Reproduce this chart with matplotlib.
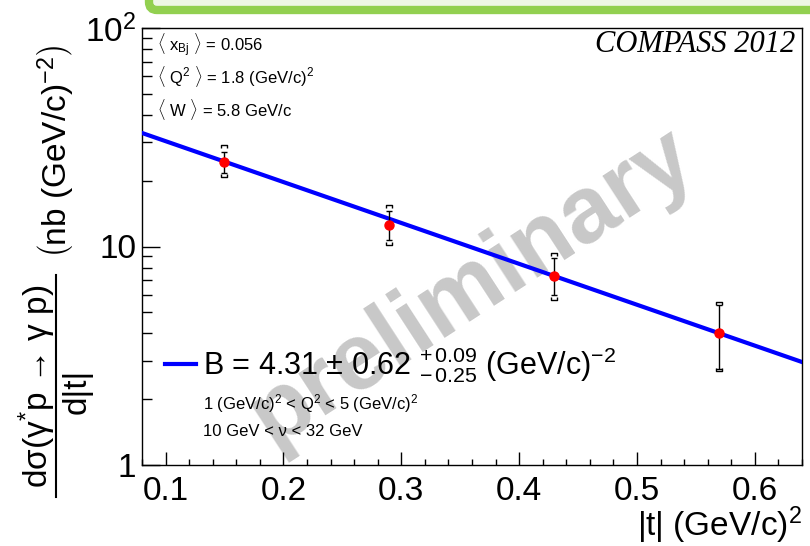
import numpy as np
import matplotlib
matplotlib.use('Agg')
from matplotlib import pyplot as plt
from matplotlib.path import Path
from matplotlib.lines import Line2D
from matplotlib.patches import FancyBboxPatch
from matplotlib.ticker import MultipleLocator, LogLocator, FixedLocator, FixedFormatter, NullFormatter
from matplotlib.transforms import IdentityTransform

plt.rcParams['font.family'] = ['Liberation Sans', 'DejaVu Sans']
plt.rcParams['mathtext.fontset'] = 'custom'
plt.rcParams['mathtext.rm'] = 'Liberation Sans'
plt.rcParams['mathtext.it'] = 'Liberation Sans'
plt.rcParams['mathtext.bf'] = 'Liberation Sans:bold'

# measured points
t_vals = [0.15, 0.29, 0.43, 0.57]
xsec = [24.4, 12.5, 7.3, 4.0]
stat_lo = [21.7, 10.7, 6.0, 2.75]
stat_hi = [27.1, 14.5, 8.9, 5.4]
sys_lo = [20.8, 10.2, 5.7, 2.7]
sys_hi = [29.1, 15.5, 9.3, 5.6]

# exponential fit  A * exp(-B |t|)
fit_A = 46.7
fit_B = 4.31

x_ticks = [0.1, 0.2, 0.3, 0.4, 0.5, 0.6]
y_ticks = [1, 10, 100]
y_ticklabels = ['1', '10', r'$10^{2}$']

W, H = 810, 546

def fx(px):
    return px / W

def fy(py):
    return 1 - py / H

fig = plt.figure(figsize=(8.1, 5.46), dpi=100)
ax = fig.add_axes([fx(142), 81 / H, 660 / W, 437 / H])

# green box peeking in at the top
box = FancyBboxPatch((149, 536), 700, 120, boxstyle='round,pad=0,rounding_size=8',
                     transform=IdentityTransform(), facecolor='#eef7e6',
                     edgecolor='#92d050', linewidth=6, clip_on=False)
fig.add_artist(box)

# watermark, behind the axes content
fig.text(fx(472), fy(287), 'preliminary', fontsize=68, fontweight='bold',
         color='#c8c8c8', rotation=33, ha='center', va='center',
         rotation_mode='anchor', zorder=-1)

tt = np.linspace(0.08, 0.64, 200)
fit_line, = ax.plot(tt, fit_A * np.exp(-fit_B * tt), color='#0000ff', lw=3, zorder=3)

t = np.array(t_vals)
y = np.array(xsec)
ax.errorbar(t, y, yerr=[y - np.array(stat_lo), np.array(stat_hi) - y], fmt='none',
            ecolor='black', elinewidth=1, capsize=2, capthick=1, zorder=4)

top_cap = Path([(-1, -1), (-1, 0), (1, 0), (1, -1)], [1, 2, 2, 2])
bot_cap = Path([(-1, 1), (-1, 0), (1, 0), (1, 1)], [1, 2, 2, 2])
ax.plot(t, sys_hi, ls='none', marker=top_cap, ms=4, mec='black', mfc='none', mew=1, zorder=4)
ax.plot(t, sys_lo, ls='none', marker=bot_cap, ms=4, mec='black', mfc='none', mew=1, zorder=4)
ax.plot(t, y, ls='none', marker='o', ms=6.5, color='#ff0000', zorder=5)

ax.set_xlim(0.08, 0.64)
ax.set_yscale('log')
ax.set_ylim(1, 100)
ax.patch.set_alpha(0)

ax.xaxis.set_major_locator(FixedLocator(x_ticks))
ax.xaxis.set_minor_locator(MultipleLocator(0.02))
ax.set_xticklabels([str(v) for v in x_ticks])
ax.yaxis.set_major_locator(FixedLocator(y_ticks))
ax.yaxis.set_major_formatter(FixedFormatter(y_ticklabels))
ax.yaxis.set_minor_locator(LogLocator(base=10, subs=np.arange(2, 10)))
ax.yaxis.set_minor_formatter(NullFormatter())

ax.tick_params(axis='both', which='both', direction='in', top=False, right=False, width=1)
ax.tick_params(axis='x', which='major', length=9.5, labelsize=24, pad=8)
ax.tick_params(axis='x', which='minor', length=4.5)
ax.tick_params(axis='y', which='major', length=13, labelsize=24, pad=4)
ax.tick_params(axis='y', which='minor', length=7)
for s in ax.spines.values():
    s.set_linewidth(1)

# y title built as a fraction: numerator, bar, denominator, units
fig.text(fx(37), fy(386), 'dσ(γ$^{*}$p → γ p)',
         fontsize=24, rotation=90, ha='center', va='center')
fig.add_artist(Line2D([fx(56), fx(56)], [fy(497), fy(275)], color='black', lw=1.5,
                      transform=fig.transFigure))
fig.text(fx(77), fy(391), 'd|t|', fontsize=24, rotation=90, ha='center', va='center')
fig.text(fx(56), fy(152), r'$\left(\mathrm{nb\ (GeV/c)^{-2}}\right)$',
         fontsize=24, rotation=90, ha='center', va='center')

fig.text(fx(802), fy(525), r'|t| (GeV/c)$^{2}$', fontsize=24, ha='right', va='center')

# kinematics
fig.text(fx(157), fy(45), r'$\langle\ \mathrm{x_{Bj}}\ \rangle$ = 0.056', fontsize=12, va='center')
fig.text(fx(157), fy(77), r'$\langle\ \mathrm{Q^{2}}\ \rangle$ = 1.8 (GeV/c)$^{2}$', fontsize=12, va='center')
fig.text(fx(157), fy(110), r'$\langle\ \mathrm{W}\ \rangle$ = 5.8 GeV/c', fontsize=12, va='center')
fig.text(fx(795), fy(45), 'COMPASS 2012', fontsize=22, family='Liberation Serif',
         style='italic', ha='right', va='center')

leg = ax.legend([fit_line],
                [r'B = 4.31 $\pm$ 0.62 $^{+\,0.09}_{-\,0.25}$ (GeV/c)$^{-2}$'],
                loc='center left', bbox_to_anchor=(0.035, 0.228), frameon=False,
                fontsize=22, handlelength=1.0, handletextpad=0.25,
                borderpad=0, borderaxespad=0)
fig.text(fx(203), fy(404), r'1 (GeV/c)$^{2}$ < Q$^{2}$ < 5 (GeV/c)$^{2}$', fontsize=12, va='center')
fig.text(fx(203), fy(432), '10 GeV < ν < 32 GeV', fontsize=12, va='center')

fig.savefig('out.png', dpi=100)
